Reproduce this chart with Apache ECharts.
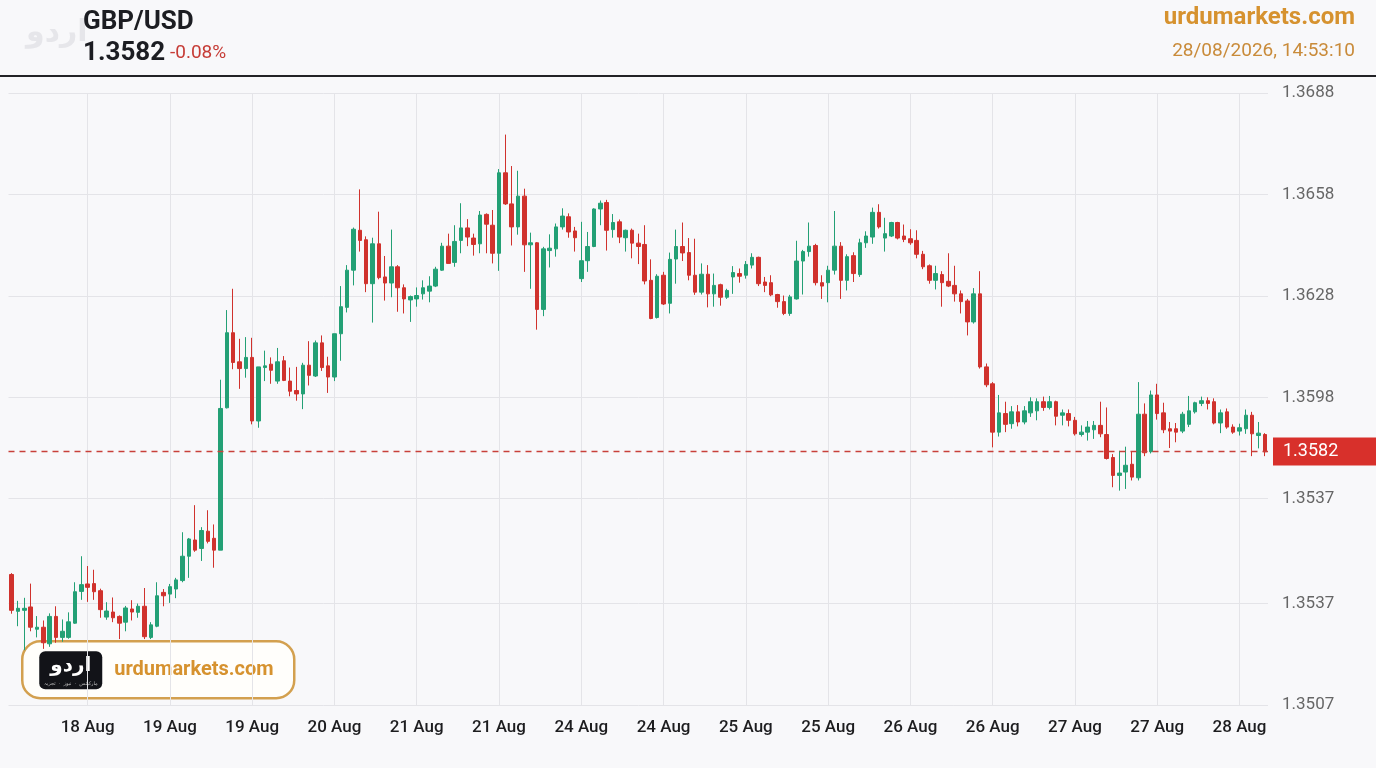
<!DOCTYPE html>
<html>
<head>
<meta charset="utf-8">
<script src="https://cdn.jsdelivr.net/npm/echarts@6/dist/echarts.min.js"></script>
<style>
  html, body { margin: 0; padding: 0; background: #f8f8fa; }
  #chart { width: 1376px; height: 768px; }
</style>
</head>
<body>
<div id="chart"></div>
<script>
// GBP/USD candles
var opens = [
  1.35456, 1.35347, 1.35350, 1.35360, 1.35294, 1.35300, 1.35251, 1.35332, 1.35270, 1.35270,
  1.35312, 1.35406, 1.35428, 1.35429, 1.35408, 1.35330, 1.35345, 1.35332, 1.35315, 1.35354,
  1.35344, 1.35362, 1.35270, 1.35303, 1.35403, 1.35398, 1.35413, 1.35438, 1.35510, 1.35558,
  1.35533, 1.35584, 1.35563, 1.35528, 1.35949, 1.36171, 1.36085, 1.36065, 1.36098, 1.35910,
  1.36068, 1.36078, 1.36028, 1.36088, 1.36028, 1.36000, 1.35990, 1.36075, 1.36043, 1.36141,
  1.36073, 1.36040, 1.36168, 1.36246, 1.36356, 1.36474, 1.36446, 1.36316, 1.36434, 1.36336,
  1.36318, 1.36366, 1.36304, 1.36268, 1.36271, 1.36286, 1.36294, 1.36309, 1.36356, 1.36427,
  1.36379, 1.36444, 1.36481, 1.36451, 1.36434, 1.36521, 1.36489, 1.36406, 1.36644, 1.36552,
  1.36484, 1.36575, 1.36431, 1.36437, 1.36240, 1.36414, 1.36419, 1.36484, 1.36514, 1.36472,
  1.36331, 1.36384, 1.36426, 1.36537, 1.36556, 1.36476, 1.36499, 1.36452, 1.36474, 1.36436,
  1.36432, 1.36326, 1.36216, 1.36341, 1.36258, 1.36389, 1.36426, 1.36408, 1.36341, 1.36291,
  1.36344, 1.36286, 1.36313, 1.36276, 1.36336, 1.36346, 1.36341, 1.36371, 1.36394, 1.36321,
  1.36319, 1.36284, 1.36263, 1.36228, 1.36271, 1.36383, 1.36411, 1.36429, 1.36319, 1.36319,
  1.36356, 1.36427, 1.36326, 1.36399, 1.36343, 1.36437, 1.36454, 1.36527, 1.36451, 1.36457,
  1.36497, 1.36457, 1.36449, 1.36444, 1.36403, 1.36369, 1.36326, 1.36343, 1.36323, 1.36311,
  1.36286, 1.36265, 1.36203, 1.36286, 1.36070, 1.36020, 1.35877, 1.35932, 1.35902, 1.35937,
  1.35907, 1.35934, 1.35940, 1.35967, 1.35950, 1.35967, 1.35927, 1.35932, 1.35912, 1.35870,
  1.35877, 1.35884, 1.35897, 1.35870, 1.35802, 1.35749, 1.35759, 1.35782, 1.35742, 1.35930,
  1.35819, 1.35987, 1.35934, 1.35887, 1.35887, 1.35880, 1.35900, 1.35937, 1.35962, 1.35970,
  1.35967, 1.35904, 1.35937, 1.35892, 1.35880, 1.35887, 1.35927, 1.35867, 1.35870
];
var closes = [
  1.35350, 1.35356, 1.35356, 1.35300, 1.35300, 1.35254, 1.35332, 1.35270, 1.35288, 1.35316,
  1.35405, 1.35426, 1.35418, 1.35405, 1.35352, 1.35348, 1.35328, 1.35312, 1.35357, 1.35345,
  1.35362, 1.35272, 1.35307, 1.35393, 1.35393, 1.35420, 1.35440, 1.35510, 1.35561, 1.35528,
  1.35586, 1.35554, 1.35528, 1.35947, 1.36171, 1.36083, 1.36065, 1.36098, 1.35910, 1.36070,
  1.36073, 1.36060, 1.36085, 1.36030, 1.35998, 1.35990, 1.36075, 1.36045, 1.36141, 1.36068,
  1.36040, 1.36168, 1.36248, 1.36356, 1.36477, 1.36444, 1.36316, 1.36434, 1.36334, 1.36318,
  1.36366, 1.36304, 1.36271, 1.36278, 1.36281, 1.36304, 1.36309, 1.36359, 1.36427, 1.36376,
  1.36441, 1.36481, 1.36454, 1.36432, 1.36519, 1.36492, 1.36406, 1.36644, 1.36552, 1.36484,
  1.36575, 1.36431, 1.36437, 1.36240, 1.36419, 1.36421, 1.36484, 1.36516, 1.36469, 1.36452,
  1.36384, 1.36426, 1.36537, 1.36554, 1.36474, 1.36497, 1.36454, 1.36474, 1.36436, 1.36426,
  1.36324, 1.36213, 1.36338, 1.36256, 1.36388, 1.36426, 1.36407, 1.36341, 1.36291, 1.36344,
  1.36286, 1.36311, 1.36276, 1.36296, 1.36349, 1.36338, 1.36373, 1.36394, 1.36316, 1.36311,
  1.36283, 1.36263, 1.36228, 1.36277, 1.36383, 1.36411, 1.36427, 1.36319, 1.36309, 1.36356,
  1.36427, 1.36326, 1.36396, 1.36346, 1.36437, 1.36457, 1.36527, 1.36484, 1.36464, 1.36497,
  1.36451, 1.36447, 1.36437, 1.36403, 1.36366, 1.36326, 1.36346, 1.36319, 1.36309, 1.36286,
  1.36263, 1.36203, 1.36286, 1.36070, 1.36017, 1.35877, 1.35934, 1.35900, 1.35937, 1.35907,
  1.35940, 1.35967, 1.35967, 1.35950, 1.35967, 1.35924, 1.35934, 1.35912, 1.35872, 1.35877,
  1.35892, 1.35897, 1.35872, 1.35799, 1.35749, 1.35756, 1.35779, 1.35744, 1.35930, 1.35816,
  1.35987, 1.35932, 1.35884, 1.35880, 1.35877, 1.35930, 1.35940, 1.35964, 1.35970, 1.35962,
  1.35904, 1.35934, 1.35892, 1.35877, 1.35890, 1.35927, 1.35872, 1.35874, 1.35819
];
var lows = [
  1.35340, 1.35303, 1.35232, 1.35288, 1.35270, 1.35236, 1.35242, 1.35254, 1.35257, 1.35266,
  1.35310, 1.35381, 1.35375, 1.35381, 1.35328, 1.35322, 1.35315, 1.35265, 1.35288, 1.35320,
  1.35328, 1.35265, 1.35265, 1.35300, 1.35362, 1.35372, 1.35386, 1.35433, 1.35446, 1.35523,
  1.35496, 1.35548, 1.35476, 1.35528, 1.35947, 1.36063, 1.36005, 1.36038, 1.35900, 1.35890,
  1.36028, 1.36020, 1.36020, 1.36028, 1.35983, 1.35970, 1.35945, 1.36015, 1.36040, 1.36058,
  1.35993, 1.36028, 1.36088, 1.36231, 1.36311, 1.36411, 1.36291, 1.36201, 1.36329, 1.36266,
  1.36276, 1.36233, 1.36228, 1.36203, 1.36248, 1.36269, 1.36261, 1.36306, 1.36354, 1.36376,
  1.36366, 1.36406, 1.36427, 1.36399, 1.36406, 1.36406, 1.36376, 1.36354, 1.36549, 1.36429,
  1.36461, 1.36351, 1.36301, 1.36180, 1.36220, 1.36364, 1.36396, 1.36476, 1.36452, 1.36411,
  1.36321, 1.36351, 1.36424, 1.36489, 1.36414, 1.36452, 1.36436, 1.36411, 1.36391, 1.36374,
  1.36314, 1.36211, 1.36213, 1.36253, 1.36228, 1.36316, 1.36383, 1.36326, 1.36283, 1.36284,
  1.36246, 1.36248, 1.36251, 1.36271, 1.36286, 1.36319, 1.36331, 1.36361, 1.36309, 1.36291,
  1.36279, 1.36245, 1.36223, 1.36221, 1.36269, 1.36284, 1.36396, 1.36311, 1.36271, 1.36261,
  1.36343, 1.36271, 1.36296, 1.36321, 1.36336, 1.36422, 1.36434, 1.36479, 1.36411, 1.36454,
  1.36447, 1.36439, 1.36431, 1.36391, 1.36359, 1.36316, 1.36299, 1.36248, 1.36306, 1.36263,
  1.36228, 1.36163, 1.36198, 1.36065, 1.36010, 1.35832, 1.35864, 1.35877, 1.35887, 1.35894,
  1.35900, 1.35922, 1.35912, 1.35940, 1.35944, 1.35897, 1.35897, 1.35894, 1.35867, 1.35864,
  1.35852, 1.35857, 1.35862, 1.35796, 1.35714, 1.35704, 1.35709, 1.35734, 1.35734, 1.35806,
  1.35814, 1.35914, 1.35874, 1.35830, 1.35847, 1.35874, 1.35892, 1.35932, 1.35954, 1.35944,
  1.35900, 1.35874, 1.35887, 1.35872, 1.35867, 1.35872, 1.35806, 1.35829, 1.35806
];
var highs = [
  1.35460, 1.35378, 1.35387, 1.35429, 1.35333, 1.35320, 1.35341, 1.35362, 1.35323, 1.35344,
  1.35433, 1.35510, 1.35481, 1.35470, 1.35414, 1.35374, 1.35388, 1.35335, 1.35363, 1.35380,
  1.35370, 1.35416, 1.35315, 1.35433, 1.35413, 1.35428, 1.35446, 1.35581, 1.35564, 1.35661,
  1.35596, 1.35646, 1.35604, 1.36032, 1.36238, 1.36301, 1.36153, 1.36158, 1.36156, 1.36070,
  1.36118, 1.36098, 1.36126, 1.36102, 1.36068, 1.36070, 1.36082, 1.36146, 1.36148, 1.36163,
  1.36100, 1.36168, 1.36309, 1.36371, 1.36482, 1.36595, 1.36456, 1.36452, 1.36529, 1.36398,
  1.36476, 1.36371, 1.36314, 1.36281, 1.36305, 1.36326, 1.36338, 1.36366, 1.36437, 1.36464,
  1.36489, 1.36554, 1.36507, 1.36464, 1.36531, 1.36524, 1.36534, 1.36655, 1.36757, 1.36664,
  1.36650, 1.36597, 1.36467, 1.36439, 1.36425, 1.36462, 1.36494, 1.36539, 1.36524, 1.36484,
  1.36499, 1.36469, 1.36539, 1.36562, 1.36564, 1.36522, 1.36506, 1.36476, 1.36479, 1.36464,
  1.36489, 1.36388, 1.36344, 1.36351, 1.36408, 1.36476, 1.36497, 1.36451, 1.36449, 1.36376,
  1.36371, 1.36346, 1.36316, 1.36301, 1.36368, 1.36361, 1.36383, 1.36406, 1.36396, 1.36336,
  1.36341, 1.36286, 1.36281, 1.36283, 1.36443, 1.36416, 1.36497, 1.36434, 1.36341, 1.36369,
  1.36531, 1.36439, 1.36403, 1.36409, 1.36449, 1.36471, 1.36541, 1.36551, 1.36511, 1.36499,
  1.36499, 1.36491, 1.36477, 1.36474, 1.36413, 1.36373, 1.36369, 1.36353, 1.36406, 1.36369,
  1.36296, 1.36271, 1.36303, 1.36353, 1.36080, 1.36025, 1.35987, 1.35967, 1.35954, 1.35957,
  1.35954, 1.35980, 1.35977, 1.35982, 1.35984, 1.35970, 1.35944, 1.35944, 1.35922, 1.35897,
  1.35910, 1.35910, 1.35967, 1.35950, 1.35812, 1.35822, 1.35834, 1.35819, 1.36025, 1.35962,
  1.36000, 1.36020, 1.35964, 1.35907, 1.35904, 1.35937, 1.35984, 1.35967, 1.35982, 1.35980,
  1.35977, 1.35944, 1.35947, 1.35900, 1.35902, 1.35944, 1.35937, 1.35907, 1.35874
];

// x labels: one every 13 candles, starting at candle 12
var dateLabels = ['18 Aug', '19 Aug', '19 Aug', '20 Aug', '21 Aug', '21 Aug', '24 Aug', '24 Aug',
  '25 Aug', '25 Aug', '26 Aug', '26 Aug', '27 Aug', '27 Aug', '28 Aug'];
var labelStart = 12;
var labelStep = 13;

// y ticks and the texts printed next to them
var yTicks = [1.3507, 1.3537, 1.3568, 1.3598, 1.3628, 1.3658, 1.3688];
var yTickLabels = ['1.3507', '1.3537', '1.3537', '1.3598', '1.3628', '1.3658', '1.3688'];

var pair = 'GBP/USD';
var lastPrice = 1.3582;
var changePct = '-0.08%';
var siteName = 'urdumarkets.com';
var stamp = '28/08/2026, 14:53:10';

var upColor = '#23a075';
var downColor = '#d0322d';
var fontFamily = 'Roboto, "Noto Sans", sans-serif';

var categories = opens.map(function (v, i) { return String(i); });
var candles = opens.map(function (o, i) {
  return [o, closes[i], lows[i], highs[i]];
});

function isLabelIdx(idx) {
  return idx >= labelStart && (idx - labelStart) % labelStep === 0;
}

var chart = echarts.init(document.getElementById('chart'), null, { renderer: 'canvas' });

var option = {
  animation: false,
  backgroundColor: '#f8f8fa',
  textStyle: { fontFamily: fontFamily },
  grid: { left: 8.5, right: 108, top: 93, bottom: 63 },
  xAxis: {
    type: 'category',
    data: categories,
    boundaryGap: true,
    axisLine: { show: false },
    axisTick: { show: false, alignWithLabel: true, interval: function (i) { return isLabelIdx(i); } },
    splitLine: {
      show: true,
      alignWithLabel: true,
      interval: function (i) { return isLabelIdx(i); },
      lineStyle: { color: '#e4e4e8', width: 1 }
    },
    axisLabel: {
      interval: function (i) { return isLabelIdx(i); },
      margin: 14,
      fontSize: 17,
      fontWeight: 500,
      color: '#1d1d1f',
      formatter: function (v) {
        return dateLabels[(Number(v) - labelStart) / labelStep] || '';
      }
    }
  },
  yAxis: {
    type: 'value',
    position: 'right',
    min: yTicks[0],
    max: yTicks[yTicks.length - 1],
    scale: true,
    axisLine: { show: false },
    axisTick: { show: false, customValues: yTicks },
    splitLine: { show: true, lineStyle: { color: '#e4e4e8', width: 1 } },
    axisLabel: {
      customValues: yTicks,
      margin: 14,
      fontSize: 17,
      color: '#666666',
      formatter: function (v) {
        var best = 0;
        for (var k = 1; k < yTicks.length; k++) {
          if (Math.abs(yTicks[k] - v) < Math.abs(yTicks[best] - v)) best = k;
        }
        return yTickLabels[best];
      }
    }
  },
  series: [{
    type: 'candlestick',
    data: candles,
    barWidth: 4,
    itemStyle: {
      color: upColor,
      color0: downColor,
      borderColor: upColor,
      borderColor0: downColor,
      borderWidth: 1
    },
    markLine: {
      silent: true,
      precision: 5, // default of 2 would round the price to 1.36
      symbol: ['none', 'none'],
      lineStyle: { color: '#c8403a', type: [6, 5], width: 1.3 },
      label: {
        show: true,
        position: 'end',
        distance: 5,
        formatter: lastPrice.toFixed(4),
        color: '#ffffff',
        fontSize: 18,
        backgroundColor: '#d8302b',
        padding: [5, 40, 5, 10]
      },
      data: [{ yAxis: lastPrice }]
    }
  }],
  graphic: [
    // faint logo in the header
    { type: 'text', left: 26, top: 18, z: 10,
      style: { text: 'اردو', fontSize: 30, fontWeight: 'bold', fill: '#e6e6ea', fontFamily: '"DejaVu Sans", sans-serif' } },
    { type: 'text', left: 83, top: 9, z: 10,
      style: { text: pair, fontSize: 26, fontWeight: 'bold', fill: '#1c1d22', fontFamily: fontFamily } },
    { type: 'text', left: 83, top: 40, z: 10,
      style: { text: lastPrice.toFixed(4), fontSize: 26, fontWeight: 'bold', fill: '#1c1d22', fontFamily: fontFamily } },
    { type: 'text', left: 170, top: 44, z: 10,
      style: { text: changePct, fontSize: 19, fill: '#c63c36', fontFamily: fontFamily } },
    { type: 'text', right: 21, top: 6, z: 10,
      style: { text: siteName, fontSize: 24, fontWeight: 'bold', fill: '#d6922f', fontFamily: fontFamily } },
    { type: 'text', right: 21, top: 42, z: 10,
      style: { text: stamp, fontSize: 19, fill: '#c98b3a', fontFamily: fontFamily } },
    { type: 'rect', left: 0, top: 75, z: 10,
      shape: { width: 1376, height: 2 }, style: { fill: '#222226' } },
    // badge in the lower left corner
    { type: 'group', left: 21, top: 640, z: 100, children: [
      { type: 'rect', shape: { x: 0, y: 0, width: 272, height: 57, r: 18 },
        style: { fill: '#fffefb', stroke: '#d3a04f', lineWidth: 2.5 } },
      { type: 'rect', shape: { x: 17, y: 10, width: 63, height: 38, r: 6 },
        style: { fill: '#121318' } },
      { type: 'text', x: 48.5, y: 25, style: { text: 'اردو', fontSize: 20, fontWeight: 'bold', fill: '#ffffff',
        align: 'center', verticalAlign: 'middle', fontFamily: '"DejaVu Sans", sans-serif' } },
      { type: 'text', x: 48.5, y: 42, style: { text: 'مارکیٹس  ·  نیوز  ·  تجزیہ', fontSize: 5, fill: '#bbbbbb',
        align: 'center', verticalAlign: 'middle', fontFamily: '"DejaVu Sans", sans-serif' } },
      { type: 'text', x: 92, y: 29, style: { text: siteName, fontSize: 20, fontWeight: 'bold', fill: '#d6922f',
        verticalAlign: 'middle', fontFamily: fontFamily } }
    ] }
  ]
};

chart.setOption(option);
</script>
</body>
</html>
